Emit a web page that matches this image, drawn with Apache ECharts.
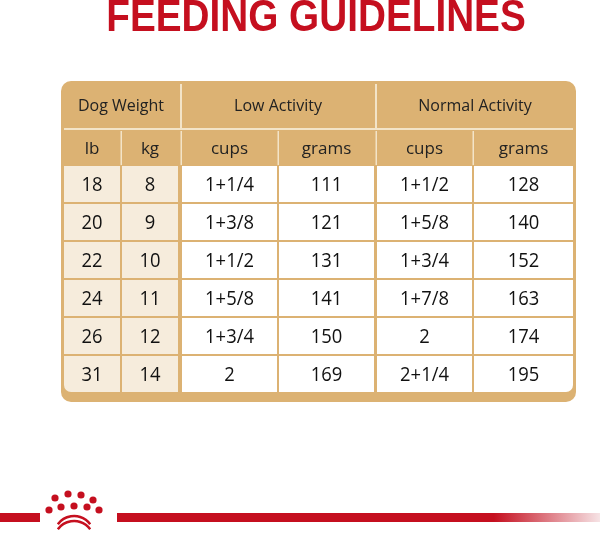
<!DOCTYPE html>
<html>
<head>
<meta charset="utf-8">
<title>Feeding Guidelines</title>
<script src="https://cdn.jsdelivr.net/npm/echarts@6/dist/echarts.min.js"></script>
<style>html,body{margin:0;background:#fff}</style>
</head>
<body>
<div id="main" style="width:600px;height:534px;"></div>
<script type="text/javascript">
    var title = 'FEEDING GUIDELINES';
    var groupHeads = ['Dog Weight', 'Low Activity', 'Normal Activity'];
    var subHeads = ['lb', 'kg', 'cups', 'grams', 'cups', 'grams'];
    var lb = ['18', '20', '22', '24', '26', '31'];
    var kg = ['8', '9', '10', '11', '12', '14'];
    var lowCups = ['1+1/4', '1+3/8', '1+1/2', '1+5/8', '1+3/4', '2'];
    var lowGrams = ['111', '121', '131', '141', '150', '169'];
    var normalCups = ['1+1/2', '1+5/8', '1+3/4', '1+7/8', '2', '2+1/4'];
    var normalGrams = ['128', '140', '152', '163', '174', '195'];

    var tan = '#dcb273';
    var cols = [[64, 120], [122, 178], [182, 277], [279, 374], [377, 472], [474, 573]];
    var rowTop = 166, rowH = 38;
    var font = '"Open Sans", "Noto Sans", sans-serif';
    var g = [];

    // title, squeezed horizontally to look condensed
    g.push({type: 'text', x: 316, y: 19, scaleX: 0.88, style: {
        text: title, fill: '#c50f1f', font: 'bold 44px "Liberation Sans", sans-serif',
        textAlign: 'center', textVerticalAlign: 'middle'
    }});
    // table frame
    g.push({type: 'rect', shape: {x: 61, y: 81, width: 515, height: 321, r: 10}, style: {fill: tan}});
    g.push({type: 'rect', shape: {x: 64, y: 128, width: 509, height: 2}, style: {fill: '#f3e4c8'}});
    [180, 375].forEach(function (x) {
        g.push({type: 'rect', shape: {x: x, y: 84, width: 2, height: 44}, style: {fill: '#f3e4c8'}});
    });
    var groupSpans = [[64, 178], [182, 374], [377, 573]];
    groupHeads.forEach(function (t, i) {
        g.push({type: 'text', x: (groupSpans[i][0] + groupSpans[i][1]) / 2, y: 106, style: {
            text: t, fill: '#222', font: '500 16px ' + font, textAlign: 'center', textVerticalAlign: 'middle'
        }});
    });
    subHeads.forEach(function (t, i) {
        if (i > 0) g.push({type: 'rect', shape: {x: cols[i][0] - 1.5, y: 131, width: 1.5, height: 34}, style: {fill: '#f3e4c8'}});
        g.push({type: 'text', x: (cols[i][0] + cols[i][1]) / 2, y: 149, style: {
            text: t, fill: '#222', font: '500 17px ' + font, textAlign: 'center', textVerticalAlign: 'middle'
        }});
    });
    var columns = [lb, kg, lowCups, lowGrams, normalCups, normalGrams];
    columns.forEach(function (vals, c) {
        vals.forEach(function (v, r) {
            var y = rowTop + r * rowH;
            g.push({type: 'rect', shape: {x: cols[c][0], y: y, width: cols[c][1] - cols[c][0], height: rowH - 2,
                r: r === vals.length - 1 ? (c === 0 ? [0, 0, 0, 7] : (c === 5 ? [0, 0, 7, 0] : 0)) : 0},
                style: {fill: c < 2 ? '#f6ecdc' : '#fff'}});
            g.push({type: 'text', x: (cols[c][0] + cols[c][1]) / 2, y: y + rowH / 2, scaleX: 0.92, style: {
                text: v, fill: '#111', font: '500 20px ' + font, textAlign: 'center', textVerticalAlign: 'middle'
            }});
        });
    });

    // footer bar and crown
    g.push({type: 'rect', shape: {x: 0, y: 513, width: 40, height: 9}, style: {fill: '#c50f1f'}});
    g.push({type: 'rect', shape: {x: 117, y: 513, width: 483, height: 9}, style: {
        fill: new echarts.graphic.LinearGradient(0, 0, 1, 0, [
            {offset: 0, color: '#c50f1f'}, {offset: 0.78, color: '#c50f1f'}, {offset: 1, color: '#f6e3e5'}])
    }});
    var dots = [[55, 498], [68, 494], [81, 495], [93, 500], [49, 510], [61, 507], [74, 506], [87, 507], [99, 510]];
    dots.forEach(function (d) {
        g.push({type: 'circle', shape: {cx: d[0], cy: d[1], r: 3.6}, style: {fill: '#c50f1f'}});
    });
    g.push({type: 'arc', shape: {cx: 74, cy: 536, r: 20, startAngle: Math.PI * 1.2, endAngle: Math.PI * 1.8},
        style: {stroke: '#c50f1f', lineWidth: 2.5, fill: null}});
    g.push({type: 'arc', shape: {cx: 74, cy: 541, r: 20, startAngle: Math.PI * 1.2, endAngle: Math.PI * 1.8},
        style: {stroke: '#c50f1f', lineWidth: 2.5, fill: null}});

    var myChart = echarts.init(document.getElementById('main'));
    myChart.setOption({animation: false, graphic: g});
</script>
</body>
</html>
